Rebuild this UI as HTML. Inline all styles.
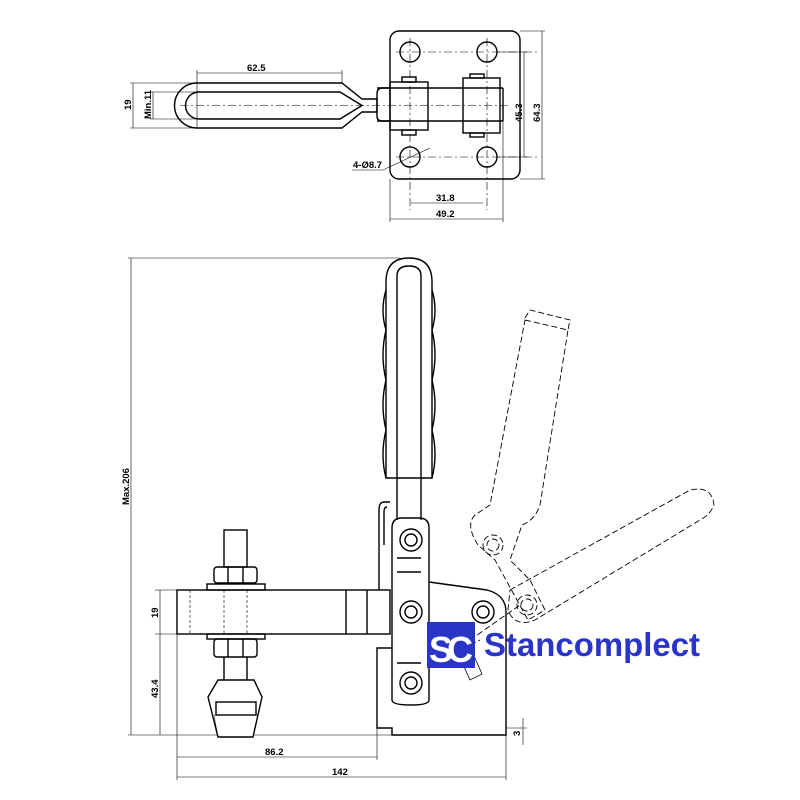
<!DOCTYPE html>
<html><head><meta charset="utf-8"><style>
html,body{margin:0;padding:0;background:#fff}
svg{display:block}
text{font-family:"Liberation Sans",Arial,sans-serif;font-size:9.5px;font-weight:bold;fill:#000}
</style></head><body>
<svg width="800" height="800" viewBox="0 0 800 800" xmlns="http://www.w3.org/2000/svg">
<g fill="none" stroke="#000" stroke-width="1.4">
<!-- TOP VIEW -->
<rect x="390" y="31" width="130" height="148" rx="9"/>
<circle cx="410" cy="52" r="10"/><circle cx="487" cy="52" r="10"/>
<circle cx="410" cy="157" r="10"/><circle cx="487" cy="157" r="10"/>
<path d="M342,83 L197,83 A22.5,22.5 0 0 0 197,128 L342,128 L362,112 L377,112 L377,99 L362,99 Z"/>
<path d="M340,92 L199,92 A13.5,13.5 0 0 0 199,119 L340,119 L362,105.5 Z"/>
<path d="M390,88 L382,88 Q377,88 377,94 L377,116 Q377,121 382,121 L390,121"/>
<line x1="377" y1="88" x2="503" y2="88"/><line x1="377" y1="121" x2="503" y2="121"/>
<line x1="503" y1="88" x2="503" y2="121"/>
<rect x="390" y="82" width="38" height="48"/>
<rect x="463" y="78" width="37" height="55"/>
<rect x="402" y="77" width="14" height="5"/><rect x="402" y="130" width="14" height="5"/>
<rect x="470" y="74" width="14" height="4"/><rect x="470" y="133" width="14" height="4"/>
<g stroke-width="0.6" stroke-dasharray="8,3,2,3">
<line x1="180" y1="105.5" x2="510" y2="105.5"/>
<line x1="410" y1="38" x2="410" y2="210"/><line x1="487" y1="38" x2="487" y2="210"/>
<line x1="396" y1="52" x2="540" y2="52"/><line x1="396" y1="157" x2="540" y2="157"/>
</g>
<g stroke-width="0.6">
<line x1="197" y1="73" x2="342" y2="73"/><line x1="197" y1="70" x2="197" y2="128"/><line x1="342" y1="70" x2="342" y2="83"/>
<line x1="130" y1="83" x2="197" y2="83"/><line x1="130" y1="128" x2="197" y2="128"/><line x1="133" y1="83" x2="133" y2="128"/>
<line x1="150" y1="92" x2="199" y2="92"/><line x1="150" y1="119" x2="199" y2="119"/><line x1="153" y1="92" x2="153" y2="119"/>
<line x1="497" y1="52" x2="527" y2="52"/><line x1="524" y1="52" x2="524" y2="157"/><line x1="497" y1="157" x2="527" y2="157"/>
<line x1="520" y1="31" x2="545" y2="31"/><line x1="542" y1="31" x2="542" y2="179"/><line x1="520" y1="179" x2="545" y2="179"/>
<line x1="411" y1="203" x2="483" y2="203"/><line x1="390" y1="219" x2="503" y2="219"/>
<line x1="390" y1="179" x2="390" y2="222"/><line x1="503" y1="121" x2="503" y2="222"/>
<path d="M352,170 L383,170 L430,148"/>
</g>
<!-- SIDE VIEW -->
<g stroke-width="0.6">
<line x1="128" y1="258" x2="400" y2="258"/><line x1="131" y1="258" x2="131" y2="735"/>
<line x1="128" y1="735" x2="506" y2="735"/>
<line x1="155" y1="590" x2="177" y2="590"/><line x1="155" y1="634" x2="207" y2="634"/>
<line x1="160" y1="590" x2="160" y2="634"/><line x1="160" y1="634" x2="160" y2="735"/>
<line x1="177" y1="634" x2="177" y2="780"/><line x1="377" y1="719" x2="377" y2="760"/><line x1="506" y1="735" x2="506" y2="780"/>
<line x1="177" y1="757" x2="377" y2="757"/><line x1="177" y1="777" x2="506" y2="777"/>
<line x1="506" y1="728" x2="527" y2="728"/><line x1="523" y1="718" x2="523" y2="745"/>
</g>
<path d="M386,478 L386,282 Q386,258 409,258 Q432,258 432,282 L432,478 Z"/>
<path d="M397,520 L397,276 Q397,266 409,266 Q421,266 421,276 L421,520"/>
<path d="M386,290 Q380,310 386,330 Q380,355 386,380 Q380,405 386,430 Q380,455 386,478"/>
<path d="M432,290 Q438,310 432,330 Q438,355 432,380 Q438,405 432,430 Q438,455 432,478"/>
<path d="M392,700 L392,528 Q392,518 402,518 L419,518 Q429,518 429,528 L429,700 Q429,705 411,705 Q392,705 392,700 Z"/>
<circle cx="411" cy="540" r="11"/><circle cx="411" cy="540" r="6"/>
<circle cx="411" cy="612" r="11"/><circle cx="411" cy="612" r="6"/>
<circle cx="411" cy="683" r="11"/><circle cx="411" cy="683" r="6"/>
<line x1="397" y1="558" x2="421" y2="558"/><line x1="397" y1="572" x2="421" y2="572"/>
<line x1="397" y1="663" x2="421" y2="663"/>
<path d="M390,502 L384,502 Q379,502 379,510 L379,590"/>
<path d="M387,507 Q384,507 384,512 L384,545"/>
<path d="M429,582 L487,590 Q506,595 506,612 L506,735 L392,735 L392,728 L377,728 L377,648 L392,648"/>
<circle cx="483" cy="612" r="11"/><circle cx="483" cy="612" r="6"/>
<rect x="177" y="590" width="213" height="44"/>
<line x1="346" y1="590" x2="346" y2="634"/><line x1="367" y1="590" x2="367" y2="634"/>
<rect x="224" y="530" width="23" height="37"/>
<rect x="214" y="567" width="43" height="16" rx="3"/>
<line x1="228" y1="567" x2="228" y2="583"/><line x1="243" y1="567" x2="243" y2="583"/>
<rect x="207" y="584" width="58" height="6"/>
<rect x="207" y="634" width="58" height="5"/>
<rect x="214" y="639" width="43" height="18" rx="3"/>
<line x1="228" y1="639" x2="228" y2="657"/><line x1="243" y1="639" x2="243" y2="657"/>
<line x1="224" y1="657" x2="224" y2="702"/><line x1="247" y1="657" x2="247" y2="702"/>
<path d="M218,680 L254,680 L262,697 L253,737 L218,737 L208,697 Z" fill="#fff"/>
<rect x="216" y="702" width="40" height="13"/>
<path d="M214,715 L258,715 L253,737 L218,737 Z" stroke-width="0.4"/>
<g stroke-width="0.6" stroke-dasharray="3,2">
<line x1="224" y1="590" x2="224" y2="634"/><line x1="247" y1="590" x2="247" y2="634"/>
<line x1="190" y1="590" x2="190" y2="634"/>
</g>
<g stroke-width="0.9" stroke-dasharray="6,3">
<path d="M525,320 L568,330 L540,505 Q535,520 522,525 L510,560 L530,580 L545,610 L528,620 L495,560 L478,545 Q465,525 475,515 L490,505 Z"/>
<circle cx="493" cy="545" r="10"/><circle cx="493" cy="545" r="6"/>
<path d="M525,318 L530,310 L570,320 L568,330"/>
<path d="M510,590 L690,490 Q712,485 714,505 Q710,515 700,520 L535,620 Q515,628 508,610 Z"/>
<circle cx="527" cy="605" r="10"/><circle cx="527" cy="605" r="6"/>
<line x1="470" y1="640" x2="520" y2="605"/>
<path d="M430,665 L480,640"/>
</g>
<path d="M462,662 L474,656 L482,674 L470,680 Z" stroke-width="0.8"/>
</g>
<text x="247" y="71">62.5</text>
<text x="131" y="110" transform="rotate(-90 131 110)">19</text>
<text x="151" y="119" transform="rotate(-90 151 119)">Min.11</text>
<text x="522" y="122" transform="rotate(-90 522 122)">45.3</text>
<text x="540" y="122" transform="rotate(-90 540 122)">64.3</text>
<text x="353" y="168">4-Ø8.7</text>
<text x="436" y="201">31.8</text>
<text x="436" y="217">49.2</text>
<text x="129" y="505" transform="rotate(-90 129 505)">Max.206</text>
<text x="158" y="618" transform="rotate(-90 158 618)">19</text>
<text x="158" y="698" transform="rotate(-90 158 698)">43.4</text>
<text x="265" y="755">86.2</text>
<text x="332" y="775">142</text>
<text x="520" y="736" transform="rotate(-90 520 736)">3</text>
<rect x="427" y="622" width="48" height="46" fill="#2a35c8"/>
<text x="429" y="662" style="font-size:36px;font-weight:bold;fill:#fff;letter-spacing:-6px">SC</text>
<text x="484" y="656" textLength="216" lengthAdjust="spacingAndGlyphs" style="font-size:33px;font-weight:bold;fill:#2a35c8">Stancomplect</text>
</svg>
</body></html>
